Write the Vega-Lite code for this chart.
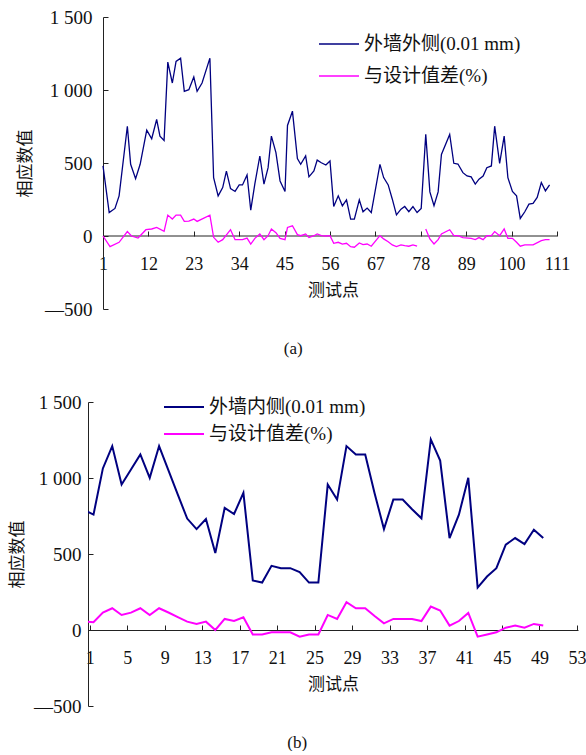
{
  "$schema": "https://vega.github.io/schema/vega-lite/v6.json",
  "background": "white",
  "padding": {"left": 8, "top": 8, "right": 0, "bottom": 0},
  "autosize": {"type": "pad"},
  "spacing": 36,
  "config": {
    "view": {"stroke": null},
    "axis": {
      "grid": false,
      "domainColor": "#222222",
      "tickColor": "#222222",
      "labelColor": "#111111",
      "titleColor": "#111111",
      "labelFont": "'Liberation Serif', 'Times New Roman', serif",
      "labelFontSize": 19,
      "titleFont": "Noto Sans CJK SC",
      "titleFontSize": 17,
      "titleFontWeight": "normal",
      "labelFlush": false,
      "labelOverlap": false,
      "labelBound": false,
      "tickSize": -5
    },
    "legend": {
      "labelFont": "'Liberation Serif', 'Noto Sans CJK SC', serif",
      "labelFontSize": 19,
      "labelColor": "#111111",
      "symbolType": "stroke",
      "symbolSize": 1600,
      "symbolStrokeWidth": 1.5,
      "labelOffset": 4,
      "clipHeight": 22,
      "title": null
    },
    "title": {"font": "'Liberation Serif', 'Times New Roman', serif", "fontSize": 17, "fontWeight": "normal", "color": "#111111"}
  },
  "resolve": {"scale": {"color": "independent", "x": "independent", "y": "independent"}, "legend": {"color": "independent"}},
  "datasets": {
    "outer": [
      {"point": 1, "value": 480, "series": "外墙外侧(0.01 mm)", "part": 1},
      {"point": 2.5, "value": 161, "series": "外墙外侧(0.01 mm)", "part": 1},
      {"point": 3.9, "value": 189, "series": "外墙外侧(0.01 mm)", "part": 1},
      {"point": 4.9, "value": 275, "series": "外墙外侧(0.01 mm)", "part": 1},
      {"point": 6.9, "value": 752, "series": "外墙外侧(0.01 mm)", "part": 1},
      {"point": 7.7, "value": 491, "series": "外墙外侧(0.01 mm)", "part": 1},
      {"point": 8.9, "value": 393, "series": "外墙外侧(0.01 mm)", "part": 1},
      {"point": 10, "value": 491, "series": "外墙外侧(0.01 mm)", "part": 1},
      {"point": 11.6, "value": 725, "series": "外墙外侧(0.01 mm)", "part": 1},
      {"point": 12.8, "value": 666, "series": "外墙外侧(0.01 mm)", "part": 1},
      {"point": 14, "value": 798, "series": "外墙外侧(0.01 mm)", "part": 1},
      {"point": 14.8, "value": 684, "series": "外墙外侧(0.01 mm)", "part": 1},
      {"point": 15.8, "value": 655, "series": "外墙外侧(0.01 mm)", "part": 1},
      {"point": 16.7, "value": 1191, "series": "外墙外侧(0.01 mm)", "part": 1},
      {"point": 17.8, "value": 1048, "series": "外墙外侧(0.01 mm)", "part": 1},
      {"point": 18.7, "value": 1196, "series": "外墙外侧(0.01 mm)", "part": 1},
      {"point": 19.8, "value": 1218, "series": "外墙外侧(0.01 mm)", "part": 1},
      {"point": 20.7, "value": 991, "series": "外墙外侧(0.01 mm)", "part": 1},
      {"point": 21.8, "value": 1002, "series": "外墙外侧(0.01 mm)", "part": 1},
      {"point": 23, "value": 1089, "series": "外墙外侧(0.01 mm)", "part": 1},
      {"point": 23.8, "value": 991, "series": "外墙外侧(0.01 mm)", "part": 1},
      {"point": 25, "value": 1048, "series": "外墙外侧(0.01 mm)", "part": 1},
      {"point": 26.9, "value": 1218, "series": "外墙外侧(0.01 mm)", "part": 1},
      {"point": 27.8, "value": 400, "series": "外墙外侧(0.01 mm)", "part": 1},
      {"point": 28.9, "value": 275, "series": "外墙外侧(0.01 mm)", "part": 1},
      {"point": 30, "value": 332, "series": "外墙外侧(0.01 mm)", "part": 1},
      {"point": 30.9, "value": 445, "series": "外墙外侧(0.01 mm)", "part": 1},
      {"point": 31.9, "value": 325, "series": "外墙外侧(0.01 mm)", "part": 1},
      {"point": 33, "value": 305, "series": "外墙外侧(0.01 mm)", "part": 1},
      {"point": 34, "value": 350, "series": "外墙外侧(0.01 mm)", "part": 1},
      {"point": 34.8, "value": 350, "series": "外墙外侧(0.01 mm)", "part": 1},
      {"point": 35.9, "value": 418, "series": "外墙外侧(0.01 mm)", "part": 1},
      {"point": 36.8, "value": 177, "series": "外墙外侧(0.01 mm)", "part": 1},
      {"point": 37.8, "value": 359, "series": "外墙外侧(0.01 mm)", "part": 1},
      {"point": 39, "value": 548, "series": "外墙外侧(0.01 mm)", "part": 1},
      {"point": 40, "value": 355, "series": "外墙外侧(0.01 mm)", "part": 1},
      {"point": 41, "value": 468, "series": "外墙外侧(0.01 mm)", "part": 1},
      {"point": 41.8, "value": 684, "series": "外墙外侧(0.01 mm)", "part": 1},
      {"point": 42.9, "value": 571, "series": "外墙外侧(0.01 mm)", "part": 1},
      {"point": 43.9, "value": 377, "series": "外墙外侧(0.01 mm)", "part": 1},
      {"point": 45.1, "value": 305, "series": "外墙外侧(0.01 mm)", "part": 1},
      {"point": 45.7, "value": 757, "series": "外墙外侧(0.01 mm)", "part": 1},
      {"point": 46.9, "value": 855, "series": "外墙外侧(0.01 mm)", "part": 1},
      {"point": 48.1, "value": 530, "series": "外墙外侧(0.01 mm)", "part": 1},
      {"point": 48.9, "value": 491, "series": "外墙外侧(0.01 mm)", "part": 1},
      {"point": 50.1, "value": 548, "series": "外墙外侧(0.01 mm)", "part": 1},
      {"point": 50.9, "value": 405, "series": "外墙外侧(0.01 mm)", "part": 1},
      {"point": 52.1, "value": 445, "series": "外墙外侧(0.01 mm)", "part": 1},
      {"point": 52.9, "value": 520, "series": "外墙外侧(0.01 mm)", "part": 1},
      {"point": 53.9, "value": 502, "series": "外墙外侧(0.01 mm)", "part": 1},
      {"point": 55, "value": 486, "series": "外墙外侧(0.01 mm)", "part": 1},
      {"point": 56, "value": 514, "series": "外墙外侧(0.01 mm)", "part": 1},
      {"point": 56.9, "value": 202, "series": "外墙外侧(0.01 mm)", "part": 1},
      {"point": 58, "value": 275, "series": "外墙外侧(0.01 mm)", "part": 1},
      {"point": 59, "value": 207, "series": "外墙外侧(0.01 mm)", "part": 1},
      {"point": 60, "value": 248, "series": "外墙外侧(0.01 mm)", "part": 1},
      {"point": 61, "value": 116, "series": "外墙外侧(0.01 mm)", "part": 1},
      {"point": 61.9, "value": 116, "series": "外墙外侧(0.01 mm)", "part": 1},
      {"point": 63.1, "value": 248, "series": "外墙外侧(0.01 mm)", "part": 1},
      {"point": 64, "value": 166, "series": "外墙外侧(0.01 mm)", "part": 1},
      {"point": 65, "value": 191, "series": "外墙外侧(0.01 mm)", "part": 1},
      {"point": 66, "value": 161, "series": "外墙外侧(0.01 mm)", "part": 1},
      {"point": 68.1, "value": 491, "series": "外墙外侧(0.01 mm)", "part": 1},
      {"point": 69, "value": 400, "series": "外墙外侧(0.01 mm)", "part": 1},
      {"point": 70.1, "value": 350, "series": "外墙外侧(0.01 mm)", "part": 1},
      {"point": 71.1, "value": 252, "series": "外墙外侧(0.01 mm)", "part": 1},
      {"point": 72.1, "value": 145, "series": "外墙外侧(0.01 mm)", "part": 1},
      {"point": 73.2, "value": 184, "series": "外墙外侧(0.01 mm)", "part": 1},
      {"point": 74.1, "value": 202, "series": "外墙外侧(0.01 mm)", "part": 1},
      {"point": 75.1, "value": 166, "series": "外墙外侧(0.01 mm)", "part": 1},
      {"point": 76.1, "value": 202, "series": "外墙外侧(0.01 mm)", "part": 1},
      {"point": 77.1, "value": 161, "series": "外墙外侧(0.01 mm)", "part": 1},
      {"point": 78.1, "value": 189, "series": "外墙外侧(0.01 mm)", "part": 1},
      {"point": 79.2, "value": 696, "series": "外墙外侧(0.01 mm)", "part": 1},
      {"point": 80.2, "value": 302, "series": "外墙外侧(0.01 mm)", "part": 1},
      {"point": 81.2, "value": 207, "series": "外墙外侧(0.01 mm)", "part": 1},
      {"point": 82.2, "value": 302, "series": "外墙外侧(0.01 mm)", "part": 1},
      {"point": 83, "value": 559, "series": "外墙外侧(0.01 mm)", "part": 1},
      {"point": 85, "value": 696, "series": "外墙外侧(0.01 mm)", "part": 1},
      {"point": 86, "value": 498, "series": "外墙外侧(0.01 mm)", "part": 1},
      {"point": 87, "value": 493, "series": "外墙外侧(0.01 mm)", "part": 1},
      {"point": 88.2, "value": 434, "series": "外墙外侧(0.01 mm)", "part": 1},
      {"point": 89.2, "value": 411, "series": "外墙外侧(0.01 mm)", "part": 1},
      {"point": 90.2, "value": 405, "series": "外墙外侧(0.01 mm)", "part": 1},
      {"point": 91.2, "value": 355, "series": "外墙外侧(0.01 mm)", "part": 1},
      {"point": 92.1, "value": 389, "series": "外墙外侧(0.01 mm)", "part": 1},
      {"point": 93.1, "value": 411, "series": "外墙外侧(0.01 mm)", "part": 1},
      {"point": 94, "value": 468, "series": "外墙外侧(0.01 mm)", "part": 1},
      {"point": 95.1, "value": 480, "series": "外墙外侧(0.01 mm)", "part": 1},
      {"point": 95.9, "value": 752, "series": "外墙外侧(0.01 mm)", "part": 1},
      {"point": 97.1, "value": 498, "series": "外墙外侧(0.01 mm)", "part": 1},
      {"point": 98.2, "value": 684, "series": "外墙外侧(0.01 mm)", "part": 1},
      {"point": 99.1, "value": 400, "series": "外墙外侧(0.01 mm)", "part": 1},
      {"point": 100.2, "value": 305, "series": "外墙外侧(0.01 mm)", "part": 1},
      {"point": 101.2, "value": 275, "series": "外墙外侧(0.01 mm)", "part": 1},
      {"point": 102.1, "value": 120, "series": "外墙外侧(0.01 mm)", "part": 1},
      {"point": 103.2, "value": 166, "series": "外墙外侧(0.01 mm)", "part": 1},
      {"point": 104.2, "value": 218, "series": "外墙外侧(0.01 mm)", "part": 1},
      {"point": 105.2, "value": 223, "series": "外墙外侧(0.01 mm)", "part": 1},
      {"point": 106.2, "value": 264, "series": "外墙外侧(0.01 mm)", "part": 1},
      {"point": 107.2, "value": 366, "series": "外墙外侧(0.01 mm)", "part": 1},
      {"point": 108.2, "value": 309, "series": "外墙外侧(0.01 mm)", "part": 1},
      {"point": 109.2, "value": 350, "series": "外墙外侧(0.01 mm)", "part": 1},
      {"point": 1, "value": 0, "series": "与设计值差(%)", "part": 1},
      {"point": 2.7, "value": -73, "series": "与设计值差(%)", "part": 1},
      {"point": 4.9, "value": -43, "series": "与设计值差(%)", "part": 1},
      {"point": 6.9, "value": 30, "series": "与设计值差(%)", "part": 1},
      {"point": 7.9, "value": 0, "series": "与设计值差(%)", "part": 1},
      {"point": 9.5, "value": -14, "series": "与设计值差(%)", "part": 1},
      {"point": 11.4, "value": 43, "series": "与设计值差(%)", "part": 1},
      {"point": 12.8, "value": 48, "series": "与设计值差(%)", "part": 1},
      {"point": 14, "value": 59, "series": "与设计值差(%)", "part": 1},
      {"point": 15.8, "value": 32, "series": "与设计值差(%)", "part": 1},
      {"point": 16.7, "value": 143, "series": "与设计值差(%)", "part": 1},
      {"point": 17.8, "value": 116, "series": "与设计值差(%)", "part": 1},
      {"point": 18.7, "value": 143, "series": "与设计值差(%)", "part": 1},
      {"point": 19.8, "value": 143, "series": "与设计值差(%)", "part": 1},
      {"point": 20.7, "value": 100, "series": "与设计值差(%)", "part": 1},
      {"point": 21.8, "value": 102, "series": "与设计值差(%)", "part": 1},
      {"point": 23, "value": 116, "series": "与设计值差(%)", "part": 1},
      {"point": 23.8, "value": 100, "series": "与设计值差(%)", "part": 1},
      {"point": 26.9, "value": 143, "series": "与设计值差(%)", "part": 1},
      {"point": 27.8, "value": -9, "series": "与设计值差(%)", "part": 1},
      {"point": 28.9, "value": -43, "series": "与设计值差(%)", "part": 1},
      {"point": 30, "value": -25, "series": "与设计值差(%)", "part": 1},
      {"point": 31.9, "value": 43, "series": "与设计值差(%)", "part": 1},
      {"point": 33, "value": -25, "series": "与设计值差(%)", "part": 1},
      {"point": 34.8, "value": -25, "series": "与设计值差(%)", "part": 1},
      {"point": 35.9, "value": -14, "series": "与设计值差(%)", "part": 1},
      {"point": 36.8, "value": -55, "series": "与设计值差(%)", "part": 1},
      {"point": 37.8, "value": -16, "series": "与设计值差(%)", "part": 1},
      {"point": 39, "value": 14, "series": "与设计值差(%)", "part": 1},
      {"point": 40, "value": -25, "series": "与设计值差(%)", "part": 1},
      {"point": 41, "value": 2, "series": "与设计值差(%)", "part": 1},
      {"point": 41.8, "value": 48, "series": "与设计值差(%)", "part": 1},
      {"point": 42.9, "value": 23, "series": "与设计值差(%)", "part": 1},
      {"point": 43.9, "value": -16, "series": "与设计值差(%)", "part": 1},
      {"point": 45.1, "value": -25, "series": "与设计值差(%)", "part": 1},
      {"point": 45.7, "value": 59, "series": "与设计值差(%)", "part": 1},
      {"point": 46.9, "value": 70, "series": "与设计值差(%)", "part": 1},
      {"point": 48.1, "value": 9, "series": "与设计值差(%)", "part": 1},
      {"point": 48.9, "value": 2, "series": "与设计值差(%)", "part": 1},
      {"point": 50.1, "value": 14, "series": "与设计值差(%)", "part": 1},
      {"point": 50.9, "value": -11, "series": "与设计值差(%)", "part": 1},
      {"point": 52.1, "value": 2, "series": "与设计值差(%)", "part": 1},
      {"point": 52.9, "value": 14, "series": "与设计值差(%)", "part": 1},
      {"point": 53.9, "value": 2, "series": "与设计值差(%)", "part": 1},
      {"point": 55, "value": 0, "series": "与设计值差(%)", "part": 1},
      {"point": 56, "value": 2, "series": "与设计值差(%)", "part": 1},
      {"point": 56.9, "value": -50, "series": "与设计值差(%)", "part": 1},
      {"point": 58, "value": -43, "series": "与设计值差(%)", "part": 1},
      {"point": 59, "value": -55, "series": "与设计值差(%)", "part": 1},
      {"point": 60, "value": -50, "series": "与设计值差(%)", "part": 1},
      {"point": 61, "value": -73, "series": "与设计值差(%)", "part": 1},
      {"point": 61.9, "value": -77, "series": "与设计值差(%)", "part": 1},
      {"point": 63.1, "value": -48, "series": "与设计值差(%)", "part": 1},
      {"point": 64, "value": -59, "series": "与设计值差(%)", "part": 1},
      {"point": 65, "value": -55, "series": "与设计值差(%)", "part": 1},
      {"point": 66, "value": -70, "series": "与设计值差(%)", "part": 1},
      {"point": 68.1, "value": 2, "series": "与设计值差(%)", "part": 1},
      {"point": 69, "value": -20, "series": "与设计值差(%)", "part": 1},
      {"point": 70.1, "value": -39, "series": "与设计值差(%)", "part": 1},
      {"point": 71.1, "value": -61, "series": "与设计值差(%)", "part": 1},
      {"point": 72.1, "value": -73, "series": "与设计值差(%)", "part": 1},
      {"point": 73.2, "value": -61, "series": "与设计值差(%)", "part": 1},
      {"point": 74.1, "value": -66, "series": "与设计值差(%)", "part": 1},
      {"point": 75.1, "value": -70, "series": "与设计值差(%)", "part": 1},
      {"point": 76.1, "value": -61, "series": "与设计值差(%)", "part": 1},
      {"point": 77.1, "value": -70, "series": "与设计值差(%)", "part": 1},
      {"point": 79.2, "value": 48, "series": "与设计值差(%)", "part": 2},
      {"point": 80.2, "value": -20, "series": "与设计值差(%)", "part": 2},
      {"point": 81.2, "value": -55, "series": "与设计值差(%)", "part": 2},
      {"point": 82.2, "value": -25, "series": "与设计值差(%)", "part": 2},
      {"point": 83, "value": 14, "series": "与设计值差(%)", "part": 2},
      {"point": 85, "value": 43, "series": "与设计值差(%)", "part": 2},
      {"point": 86, "value": 2, "series": "与设计值差(%)", "part": 2},
      {"point": 87, "value": 2, "series": "与设计值差(%)", "part": 2},
      {"point": 88.2, "value": -11, "series": "与设计值差(%)", "part": 2},
      {"point": 90.2, "value": -16, "series": "与设计值差(%)", "part": 2},
      {"point": 91.2, "value": -25, "series": "与设计值差(%)", "part": 2},
      {"point": 92.1, "value": -11, "series": "与设计值差(%)", "part": 2},
      {"point": 93.1, "value": -25, "series": "与设计值差(%)", "part": 2},
      {"point": 94, "value": 2, "series": "与设计值差(%)", "part": 2},
      {"point": 95.1, "value": 2, "series": "与设计值差(%)", "part": 2},
      {"point": 95.9, "value": 30, "series": "与设计值差(%)", "part": 2},
      {"point": 97.1, "value": 2, "series": "与设计值差(%)", "part": 2},
      {"point": 98.2, "value": 48, "series": "与设计值差(%)", "part": 2},
      {"point": 99.1, "value": -16, "series": "与设计值差(%)", "part": 2},
      {"point": 100.2, "value": -16, "series": "与设计值差(%)", "part": 2},
      {"point": 101.2, "value": -43, "series": "与设计值差(%)", "part": 2},
      {"point": 102.1, "value": -70, "series": "与设计值差(%)", "part": 2},
      {"point": 103.2, "value": -61, "series": "与设计值差(%)", "part": 2},
      {"point": 105.2, "value": -61, "series": "与设计值差(%)", "part": 2},
      {"point": 107.2, "value": -32, "series": "与设计值差(%)", "part": 2},
      {"point": 108.2, "value": -25, "series": "与设计值差(%)", "part": 2},
      {"point": 109.2, "value": -25, "series": "与设计值差(%)", "part": 2}
    ],
    "inner": [
      {"point": 1, "value": 790, "series": "外墙内侧(0.01 mm)"},
      {"point": 2, "value": 759, "series": "外墙内侧(0.01 mm)"},
      {"point": 3, "value": 1063, "series": "外墙内侧(0.01 mm)"},
      {"point": 4, "value": 1210, "series": "外墙内侧(0.01 mm)"},
      {"point": 5, "value": 957, "series": "外墙内侧(0.01 mm)"},
      {"point": 6, "value": 1056, "series": "外墙内侧(0.01 mm)"},
      {"point": 7, "value": 1155, "series": "外墙内侧(0.01 mm)"},
      {"point": 8, "value": 1001, "series": "外墙内侧(0.01 mm)"},
      {"point": 9, "value": 1210, "series": "外墙内侧(0.01 mm)"},
      {"point": 10, "value": 1050, "series": "外墙内侧(0.01 mm)"},
      {"point": 11, "value": 890, "series": "外墙内侧(0.01 mm)"},
      {"point": 12, "value": 733, "series": "外墙内侧(0.01 mm)"},
      {"point": 13, "value": 664, "series": "外墙内侧(0.01 mm)"},
      {"point": 14, "value": 730, "series": "外墙内侧(0.01 mm)"},
      {"point": 15, "value": 506, "series": "外墙内侧(0.01 mm)"},
      {"point": 16, "value": 803, "series": "外墙内侧(0.01 mm)"},
      {"point": 17, "value": 763, "series": "外墙内侧(0.01 mm)"},
      {"point": 18, "value": 902, "series": "外墙内侧(0.01 mm)"},
      {"point": 19, "value": 326, "series": "外墙内侧(0.01 mm)"},
      {"point": 20, "value": 312, "series": "外墙内侧(0.01 mm)"},
      {"point": 21, "value": 422, "series": "外墙内侧(0.01 mm)"},
      {"point": 22, "value": 407, "series": "外墙内侧(0.01 mm)"},
      {"point": 23, "value": 407, "series": "外墙内侧(0.01 mm)"},
      {"point": 24, "value": 381, "series": "外墙内侧(0.01 mm)"},
      {"point": 25, "value": 312, "series": "外墙内侧(0.01 mm)"},
      {"point": 26, "value": 312, "series": "外墙内侧(0.01 mm)"},
      {"point": 27, "value": 957, "series": "外墙内侧(0.01 mm)"},
      {"point": 28, "value": 858, "series": "外墙内侧(0.01 mm)"},
      {"point": 29, "value": 1210, "series": "外墙内侧(0.01 mm)"},
      {"point": 30, "value": 1155, "series": "外墙内侧(0.01 mm)"},
      {"point": 31, "value": 1155, "series": "外墙内侧(0.01 mm)"},
      {"point": 32, "value": 900, "series": "外墙内侧(0.01 mm)"},
      {"point": 33, "value": 664, "series": "外墙内侧(0.01 mm)"},
      {"point": 34, "value": 858, "series": "外墙内侧(0.01 mm)"},
      {"point": 35, "value": 858, "series": "外墙内侧(0.01 mm)"},
      {"point": 36, "value": 794, "series": "外墙内侧(0.01 mm)"},
      {"point": 37, "value": 735, "series": "外墙内侧(0.01 mm)"},
      {"point": 38, "value": 1254, "series": "外墙内侧(0.01 mm)"},
      {"point": 39, "value": 1115, "series": "外墙内侧(0.01 mm)"},
      {"point": 40, "value": 605, "series": "外墙内侧(0.01 mm)"},
      {"point": 41, "value": 759, "series": "外墙内侧(0.01 mm)"},
      {"point": 42, "value": 1001, "series": "外墙内侧(0.01 mm)"},
      {"point": 43, "value": 279, "series": "外墙内侧(0.01 mm)"},
      {"point": 44, "value": 352, "series": "外墙内侧(0.01 mm)"},
      {"point": 45, "value": 407, "series": "外墙内侧(0.01 mm)"},
      {"point": 46, "value": 561, "series": "外墙内侧(0.01 mm)"},
      {"point": 47, "value": 605, "series": "外墙内侧(0.01 mm)"},
      {"point": 48, "value": 565, "series": "外墙内侧(0.01 mm)"},
      {"point": 49, "value": 660, "series": "外墙内侧(0.01 mm)"},
      {"point": 50, "value": 605, "series": "外墙内侧(0.01 mm)"},
      {"point": 1, "value": 57, "series": "与设计值差(%)"},
      {"point": 2, "value": 51, "series": "与设计值差(%)"},
      {"point": 3, "value": 114, "series": "与设计值差(%)"},
      {"point": 4, "value": 143, "series": "与设计值差(%)"},
      {"point": 5, "value": 99, "series": "与设计值差(%)"},
      {"point": 6, "value": 114, "series": "与设计值差(%)"},
      {"point": 7, "value": 143, "series": "与设计值差(%)"},
      {"point": 8, "value": 99, "series": "与设计值差(%)"},
      {"point": 9, "value": 143, "series": "与设计值差(%)"},
      {"point": 10, "value": 115, "series": "与设计值差(%)"},
      {"point": 11, "value": 85, "series": "与设计值差(%)"},
      {"point": 12, "value": 55, "series": "与设计值差(%)"},
      {"point": 13, "value": 40, "series": "与设计值差(%)"},
      {"point": 14, "value": 55, "series": "与设计值差(%)"},
      {"point": 15, "value": 0, "series": "与设计值差(%)"},
      {"point": 16, "value": 73, "series": "与设计值差(%)"},
      {"point": 17, "value": 59, "series": "与设计值差(%)"},
      {"point": 18, "value": 84, "series": "与设计值差(%)"},
      {"point": 19, "value": -29, "series": "与设计值差(%)"},
      {"point": 20, "value": -29, "series": "与设计值差(%)"},
      {"point": 21, "value": -15, "series": "与设计值差(%)"},
      {"point": 22, "value": -15, "series": "与设计值差(%)"},
      {"point": 23, "value": -15, "series": "与设计值差(%)"},
      {"point": 24, "value": -44, "series": "与设计值差(%)"},
      {"point": 25, "value": -29, "series": "与设计值差(%)"},
      {"point": 26, "value": -29, "series": "与设计值差(%)"},
      {"point": 27, "value": 99, "series": "与设计值差(%)"},
      {"point": 28, "value": 73, "series": "与设计值差(%)"},
      {"point": 29, "value": 183, "series": "与设计值差(%)"},
      {"point": 30, "value": 143, "series": "与设计值差(%)"},
      {"point": 31, "value": 143, "series": "与设计值差(%)"},
      {"point": 32, "value": 92, "series": "与设计值差(%)"},
      {"point": 33, "value": 44, "series": "与设计值差(%)"},
      {"point": 34, "value": 73, "series": "与设计值差(%)"},
      {"point": 35, "value": 73, "series": "与设计值差(%)"},
      {"point": 36, "value": 73, "series": "与设计值差(%)"},
      {"point": 37, "value": 59, "series": "与设计值差(%)"},
      {"point": 38, "value": 154, "series": "与设计值差(%)"},
      {"point": 39, "value": 128, "series": "与设计值差(%)"},
      {"point": 40, "value": 29, "series": "与设计值差(%)"},
      {"point": 41, "value": 59, "series": "与设计值差(%)"},
      {"point": 42, "value": 112, "series": "与设计值差(%)"},
      {"point": 43, "value": -44, "series": "与设计值差(%)"},
      {"point": 44, "value": -29, "series": "与设计值差(%)"},
      {"point": 45, "value": -15, "series": "与设计值差(%)"},
      {"point": 46, "value": 15, "series": "与设计值差(%)"},
      {"point": 47, "value": 29, "series": "与设计值差(%)"},
      {"point": 48, "value": 15, "series": "与设计值差(%)"},
      {"point": 49, "value": 40, "series": "与设计值差(%)"},
      {"point": 50, "value": 29, "series": "与设计值差(%)"}
    ]
  },
  "vconcat": [
    {
      "width": 469,
      "height": 292,
      "title": {"text": "(a)", "orient": "bottom", "anchor": "middle", "frame": "bounds", "offset": 22},
      "layer": [
        {
          "data": {"values": [{}]},
          "mark": {"type": "rule", "color": "#222222", "strokeWidth": 1},
          "encoding": {
            "x": {"datum": 1, "type": "quantitative"},
            "x2": {"datum": 111},
            "y": {"datum": 0, "type": "quantitative"}
          }
        },
        {
          "data": {"name": "outer"},
          "mark": {"type": "line", "strokeWidth": 1.3},
          "encoding": {
            "x": {
              "field": "point",
              "type": "quantitative",
              "scale": {"domain": [-2.634, 111], "nice": false, "zero": false},
              "axis": {
                "values": [1, 12, 23, 34, 45, 56, 67, 78, 89, 100, 111],
                "offset": -73,
                "domain": false,
                "labelFontSize": 18,
                "labelPadding": 24,
                "title": "测试点",
                "titleX": 245,
                "titlePadding": 9
              }
            },
            "y": {
              "field": "value",
              "type": "quantitative",
              "scale": {"domain": [-500, 1500], "nice": false, "zero": false},
              "axis": {
                "values": [-500, 0, 500, 1000, 1500],
                "offset": -15,
                "labelPadding": 16,
                "labelExpr": "datum.value < 0 ? '—' + format(-datum.value, 'd') : replace(format(datum.value, ',d'), ',', ' ')",
                "title": "相应数值",
                "titlePadding": 10
              }
            },
            "color": {
              "field": "series",
              "type": "nominal",
              "scale": {"domain": ["外墙外侧(0.01 mm)", "与设计值差(%)"], "range": ["#000080", "#FF00FF"]},
              "legend": {"orient": "none", "legendX": 230, "legendY": 16, "rowPadding": 10}
            },
            "detail": {"field": "part", "type": "nominal"}
          }
        }
      ]
    },
    {
      "width": 490,
      "height": 304,
      "title": {"text": "(b)", "orient": "bottom", "anchor": "middle", "frame": "bounds", "offset": 19},
      "data": {"name": "inner"},
      "mark": {"type": "line", "strokeWidth": 2, "clip": true},
      "encoding": {
        "x": {
          "field": "point",
          "type": "quantitative",
          "scale": {"domain": [1.413, 53.71], "nice": false, "zero": false},
          "axis": {
            "values": [1.6, 5.6, 9.6, 13.6, 17.6, 21.6, 25.6, 29.6, 33.6, 37.6, 41.6, 45.6, 49.6, 53.6],
            "labelExpr": "format(datum.value - 0.6, 'd')",
            "offset": -76,
            "labelFontSize": 18,
            "labelPadding": 24,
            "title": "测试点",
            "titlePadding": 9
          }
        },
        "y": {
          "field": "value",
          "type": "quantitative",
          "scale": {"domain": [-500, 1500], "nice": false, "zero": false},
          "axis": {
            "values": [-500, 0, 500, 1000, 1500],
            "labelPadding": 12,
            "labelExpr": "datum.value < 0 ? '—' + format(-datum.value, 'd') : replace(format(datum.value, ',d'), ',', ' ')",
            "title": "相应数值",
            "titlePadding": 7
          }
        },
        "color": {
          "field": "series",
          "type": "nominal",
          "scale": {"domain": ["外墙内侧(0.01 mm)", "与设计值差(%)"], "range": ["#000080", "#FF00FF"]},
          "legend": {"orient": "none", "legendX": 75, "legendY": -6, "rowPadding": 5, "symbolStrokeWidth": 2}
        }
      }
    }
  ]
}
